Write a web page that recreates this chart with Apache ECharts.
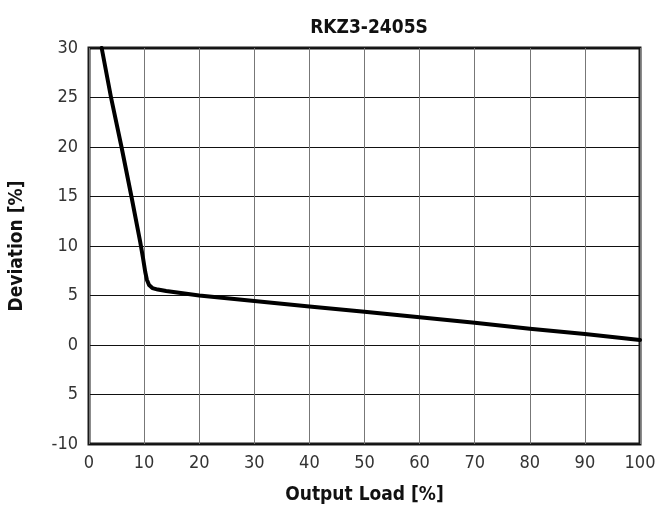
<!DOCTYPE html>
<html>
<head>
<meta charset="utf-8">
<script src="https://cdn.jsdelivr.net/npm/echarts@6/dist/echarts.min.js"></script>
<style>
  html, body { margin: 0; padding: 0; background: #fff; }
  #chart { width: 658px; height: 526px; }
</style>
</head>
<body>
<div id="chart"></div>
<script>
var chartTitle = 'RKZ3-2405S';
var xName = 'Output Load [%]';
var yName = 'Deviation [%]';
// load [%] vs deviation [%]
var loadValues = [2.3, 4, 5.9, 7.7, 9.3, 9.8, 10.2, 10.5, 10.9, 11.5, 12.5, 14, 20, 30, 40, 50, 60, 70, 80, 90, 100];
var deviationValues = [30, 25, 20, 15, 10.4, 8.8, 7.4, 6.6, 6.05, 5.75, 5.6, 5.45, 5.0, 4.45, 3.9, 3.35, 2.8, 2.25, 1.65, 1.1, 0.5];
// y tick labels as printed on the original (the -5 has lost its minus)
var yTickLabels = { '-10': '-10', '-5': '5', '0': '0', '5': '5', '10': '10', '15': '15', '20': '20', '25': '25', '30': '30' };

var font = '"DejaVu Sans Condensed", "Liberation Sans", sans-serif';
var points = [];
for (var i = 0; i < loadValues.length; i++) {
    points.push([loadValues[i], deviationValues[i]]);
}

var chart = echarts.init(document.getElementById('chart'));
chart.setOption({
    animation: false,
    backgroundColor: '#fff',
    title: {
        text: chartTitle,
        left: 364, top: 14, textAlign: 'center',
        textStyle: { fontFamily: font, fontSize: 19, fontWeight: 'bold', color: '#111' }
    },
    grid: {
        left: 89, right: 18, top: 48, bottom: 82,
        containLabel: false, outerBoundsMode: 'none',
        show: true, borderColor: '#1a1a1a', borderWidth: 3
    },
    xAxis: {
        type: 'value', min: 0, max: 100, interval: 10,
        name: xName, nameLocation: 'middle', nameGap: 42,
        nameTextStyle: { fontFamily: font, fontSize: 19, fontWeight: 'bold', color: '#111' },
        axisLine: { show: false },
        axisTick: { show: false },
        axisLabel: { fontFamily: font, fontSize: 18, color: '#333', margin: 10 },
        splitLine: { show: true, lineStyle: { color: '#777', width: 1 } }
    },
    yAxis: {
        type: 'value', min: -10, max: 30, interval: 5,
        name: yName, nameLocation: 'middle', nameGap: 62,
        nameTextStyle: { fontFamily: font, fontSize: 19, fontWeight: 'bold', color: '#111' },
        axisLine: { show: false },
        axisTick: { show: false },
        axisLabel: {
            fontFamily: font, fontSize: 18, color: '#333', margin: 11,
            formatter: function (v) { return yTickLabels[String(v)]; }
        },
        splitLine: { show: true, lineStyle: { color: '#111', width: 1 } }
    },
    series: [{
        type: 'line',
        data: points,
        showSymbol: false,
        lineStyle: { color: '#000', width: 4, join: 'round', cap: 'round' }
    }]
});
</script>
</body>
</html>
